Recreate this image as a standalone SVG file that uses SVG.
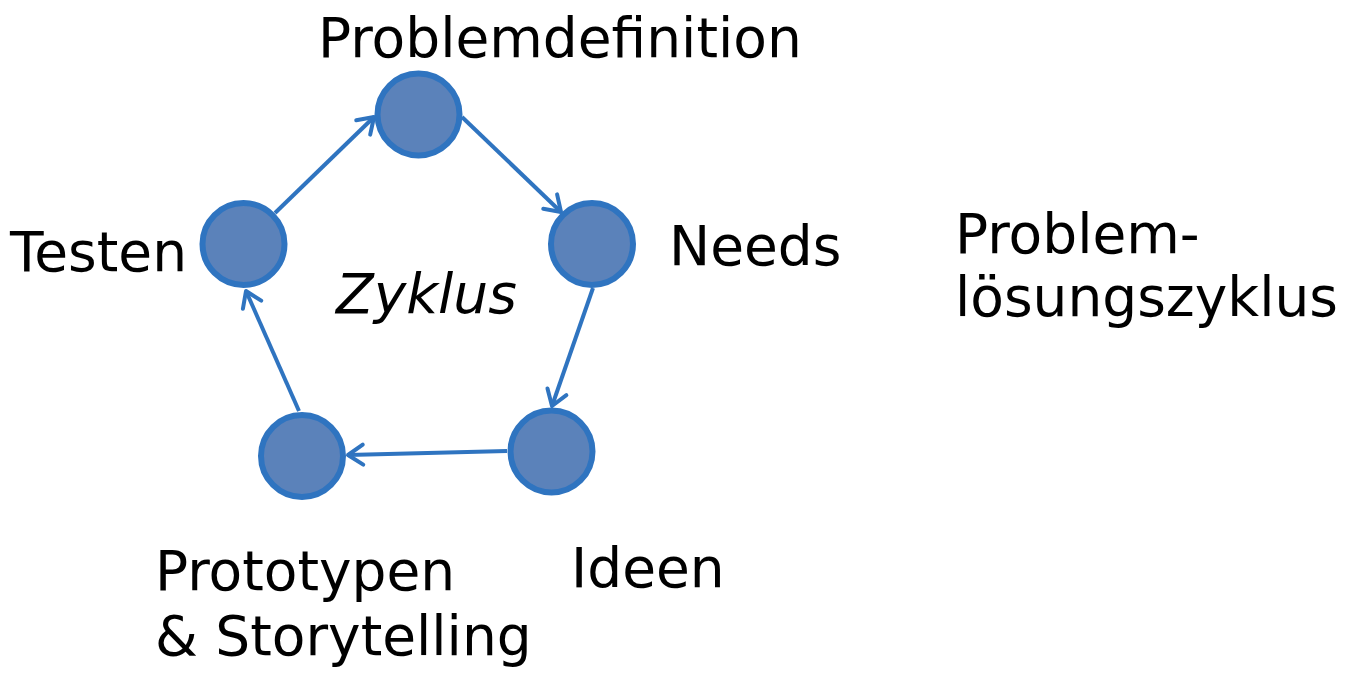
<svg xmlns="http://www.w3.org/2000/svg" width="1350" height="684" viewBox="0 0 1350 684">
<style>
.node circle{fill:#5B82BA;stroke:#2F74C0;stroke-width:6}
.lbl{font-family:"DejaVu Sans",Verdana,sans-serif;font-size:55px;fill:#000}
.it{font-style:italic}
.edge{stroke:#2F74C0;stroke-width:4;fill:none;marker-end:url(#arr)}
</style>
<defs>
<marker id="arr" markerUnits="userSpaceOnUse" markerWidth="28" markerHeight="28" viewBox="0 0 28 28" refX="23" refY="14" orient="auto">
<path d="M8,4 L23,14 L8,24" fill="none" stroke="#2F74C0" stroke-width="4" stroke-linecap="round" stroke-linejoin="round"/>
</marker>
</defs>
<g id="connectors">
<line class="edge" x1="275" y1="213" x2="374" y2="117"/>
<line class="edge" x1="462" y1="117" x2="561" y2="212"/>
<line class="edge" x1="593" y1="288" x2="552" y2="406"/>
<line class="edge" x1="507" y1="451" x2="348" y2="455"/>
<line class="edge" x1="299" y1="411" x2="246" y2="291"/>
</g>
<g id="problemdefinition" class="node"><circle cx="418.5" cy="114.5" r="41"/><text class="lbl" x="318" y="57">Problemdefinition</text></g>
<g id="needs" class="node"><circle cx="592" cy="244" r="41"/><text class="lbl" x="669" y="265">Needs</text></g>
<g id="ideen" class="node"><circle cx="551.5" cy="451.5" r="41"/><text class="lbl" x="571" y="587">Ideen</text></g>
<g id="prototypen" class="node"><circle cx="302" cy="456" r="41"/><text class="lbl" x="155" y="590">Prototypen</text><text class="lbl" x="155" y="655">&amp; Storytelling</text></g>
<g id="testen" class="node"><circle cx="243.5" cy="244" r="41"/><text class="lbl" x="10" y="271">Testen</text></g>
<text class="lbl it" x="336" y="313">Zyklus</text>
<text class="lbl" x="955" y="253">Problem-</text>
<text class="lbl" x="955" y="316">lösungszyklus</text>
</svg>
